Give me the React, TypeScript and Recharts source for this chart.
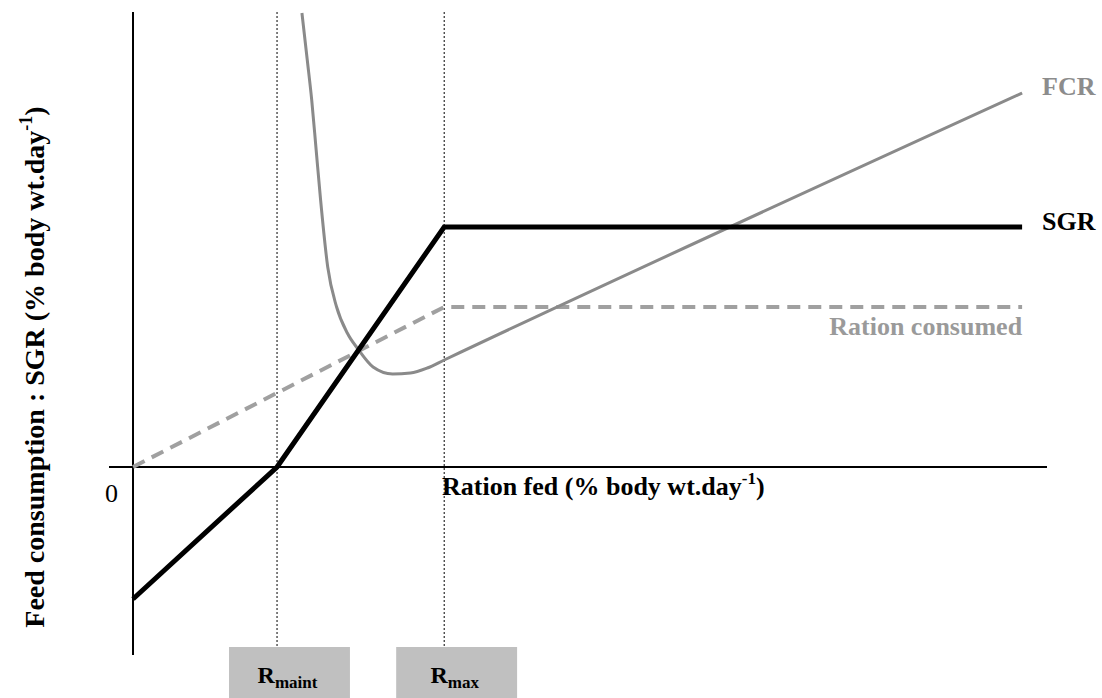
import { LineChart, Line, XAxis, YAxis, ReferenceLine, ReferenceArea } from 'recharts';

// ration fed (% body wt/day) and response values
const sgrRation = [0, 1.62, 3.5, 10];
const sgrValues = [-2.64, 0, 4.8, 4.8];

const consumedRation = [0, 3.5, 10];
const consumedValues = [0, 3.2, 3.2];

const fcrRation = [1.9, 1.96, 2.01, 2.06, 2.11, 2.19, 2.29, 2.41, 2.53, 2.7, 2.92, 3.12, 3.31, 3.5, 10];
const fcrValues = [9.08, 8.14, 7.34, 6.34, 5.34, 4.0, 3.2, 2.68, 2.36, 2.0, 1.86, 1.88, 1.98, 2.14, 7.48];

const markerNames = ['maint', 'max'];
const markerRations = [1.62, 3.5];

const toRows = (xs: number[], ys: number[]) => xs.map((x, i) => ({ x, y: ys[i] }));

const sgrData = toRows(sgrRation, sgrValues);
const consumedData = toRows(consumedRation, consumedValues);
const fcrData = toRows(fcrRation, fcrValues);

const FONT = "'Liberation Serif', 'Times New Roman', serif";

const endLabel = (n: number, text: string, color: string, dx: number, dy: number, anchor = 'start') =>
  (props: any) => {
    if (props.index !== n - 1) return null;
    return (
      <text x={props.x + dx} y={props.y + dy} fill={color} fontFamily={FONT} fontWeight="bold" fontSize={26} textAnchor={anchor}>
        {text}
      </text>
    );
  };

export default function App() {
  return (
    <div style={{ position: 'absolute', left: 0, top: 0, background: '#fff' }}>
      <LineChart width={1102} height={698} margin={{ top: 12, right: 55, bottom: 43, left: 109 }}>
        <XAxis type="number" dataKey="x" domain={[-0.27, 10.28]} hide allowDataOverflow />
        <YAxis type="number" dataKey="y" domain={[-3.76, 9.1]} hide allowDataOverflow />

        {markerRations.map((r, i) => (
          <ReferenceArea
            key={markerNames[i]}
            x1={r - 0.54}
            x2={r + 0.82}
            y1={-3.6}
            y2={-5}
            ifOverflow="visible"
            fill="#c0c0c0"
            fillOpacity={1}
            stroke="none"
            label={(p: any) => {
              const vb = p.viewBox;
              return (
                <text x={vb.x + vb.width / 2 - 2} y={vb.y + 36} textAnchor="middle" fontFamily={FONT} fontWeight="bold" fill="#000">
                  <tspan fontSize={24}>R</tspan>
                  <tspan fontSize={17} dy={5}>{markerNames[i]}</tspan>
                </text>
              );
            }}
          />
        ))}

        {markerRations.map((r) => (
          <ReferenceLine
            key={'v' + r}
            segment={[{ x: r, y: 9.1 }, { x: r, y: -3.6 }]}
            stroke="#000"
            strokeWidth={1}
            strokeDasharray="2 2"
            ifOverflow="visible"
          />
        ))}

        <ReferenceLine
          y={0}
          stroke="#000"
          strokeWidth={2}
          label={(p: any) => {
            const vb = p.viewBox;
            return (
              <g fontFamily={FONT} fontSize={26}>
                <text x={vb.x + 9} y={vb.y + 35} textAnchor="end" fill="#000">0</text>
                <text x={vb.x + 333} y={vb.y + 28} fontWeight="bold" fill="#000">
                  Ration fed (% body wt.day<tspan fontSize={17} dy={-11}>-1</tspan>
                  <tspan fontSize={26} dy={11}>)</tspan>
                </text>
              </g>
            );
          }}
        />
        <ReferenceLine
          x={0}
          stroke="#000"
          strokeWidth={2}
          label={(p: any) => {
            const vb = p.viewBox;
            const cx = vb.x - 89;
            const cy = 367;
            return (
              <text
                x={cx}
                y={cy}
                transform={`rotate(-90 ${cx} ${cy})`}
                textAnchor="middle"
                fontFamily={FONT}
                fontWeight="bold"
                fontSize={28}
                fill="#000"
              >
                Feed consumption : SGR (% body wt.day<tspan fontSize={18} dy={-12}>-1</tspan>
                <tspan fontSize={28} dy={12}>)</tspan>
              </text>
            );
          }}
        />

        <Line
          data={consumedData}
          dataKey="y"
          type="linear"
          stroke="#a0a0a0"
          strokeWidth={4}
          strokeDasharray="13 8"
          dot={false}
          isAnimationActive={false}
          label={endLabel(consumedData.length, 'Ration consumed', '#9a9a9a', 0, 28, 'end')}
        />
        <Line
          data={fcrData}
          dataKey="y"
          type="monotone"
          stroke="#8a8a8a"
          strokeWidth={3}
          dot={false}
          isAnimationActive={false}
          label={endLabel(fcrData.length, 'FCR', '#8c8c8c', 20, 2)}
        />
        <Line
          data={sgrData}
          dataKey="y"
          type="linear"
          stroke="#000"
          strokeWidth={5}
          dot={false}
          isAnimationActive={false}
          label={endLabel(sgrData.length, 'SGR', '#000', 20, 3)}
        />
      </LineChart>
    </div>
  );
}
